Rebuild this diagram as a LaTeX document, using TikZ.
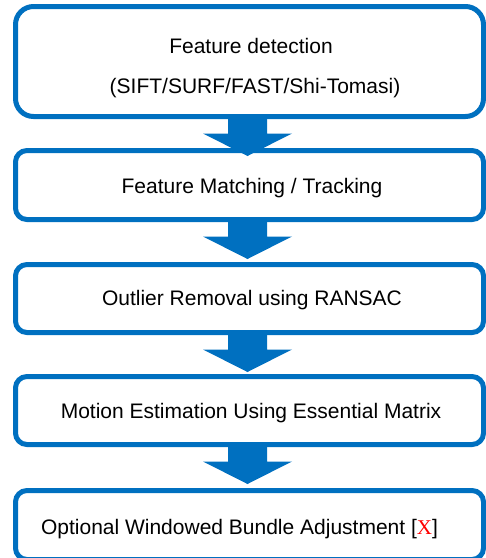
\documentclass[tikz,border=0pt]{standalone}
\usepackage{fontspec}
\setmainfont{Liberation Sans}
\newfontfamily\serifx{Liberation Serif}
\usetikzlibrary{calc}
\definecolor{pblue}{HTML}{0070C0}
\begin{document}
\begin{tikzpicture}[x=0.75pt,y=-0.75pt,
  box/.style={draw=pblue, line width=3.75pt, inner sep=0pt, outer sep=1.875pt,
    minimum width=351pt, rectangle},
  lbl/.style={anchor=base, inner sep=0pt, font=\fontsize{15.75}{18}\selectfont, text=black},
  flowarrow/.style={fill=pblue, draw=none}]
\useasboundingbox (0,0) rectangle (486,558);
\clip (0,0) rectangle (486,558);
\fill[white] (0,0) rectangle (486,558);
% boxes
\node[box, minimum height=82.5pt, rounded corners=13.5pt] (b1) at (249.5,61.5) {};
\node[box, minimum height=51.75pt, rounded corners=8.6pt] (b2) at (249.5,185) {};
\node[box, minimum height=51pt, rounded corners=8.6pt] (b3) at (249.5,298.5) {};
\node[box, minimum height=51pt, rounded corners=8.6pt] (b4) at (249.5,410.5) {};
\node[box, minimum height=51.75pt, rounded corners=8.6pt] (b5) at (249.5,525) {};
% texts
\node[lbl] (t1a) at (251,53.5) {Feature detection};
\node[lbl] (t1b) at (255,93.5) {(SIFT/SURF/FAST/Shi-Tomasi)};
\node[lbl] (t2) at (252,193.5) {Feature Matching / Tracking};
\node[lbl] (t3) at (252,305.5) {Outlier Removal using RANSAC};
\node[lbl] (t4) at (251,418) {Motion Estimation Using Essential Matrix};
\node[lbl] (t5) at (239.5,534) {Optional Windowed Bundle Adjustment [{\serifx\color{red}X}]};
% block arrows
\foreach \a/\b in {b1/b2,b2/b3,b3/b4,b4/b5}{
  \coordinate (s) at ($(\a.south)+(-2,0)$);
  \fill[flowarrow] ($(s)+(-19.5,-2)$) -- ($(s)+(19.5,-2)$) -- ($(s)+(19.5,14.5)$)
    -- ($(s)+(44.5,14.5)$) -- ($(s)+(0,37)$) -- ($(s)+(-44.5,14.5)$)
    -- ($(s)+(-19.5,14.5)$) -- cycle;
}
\end{tikzpicture}
\end{document}
